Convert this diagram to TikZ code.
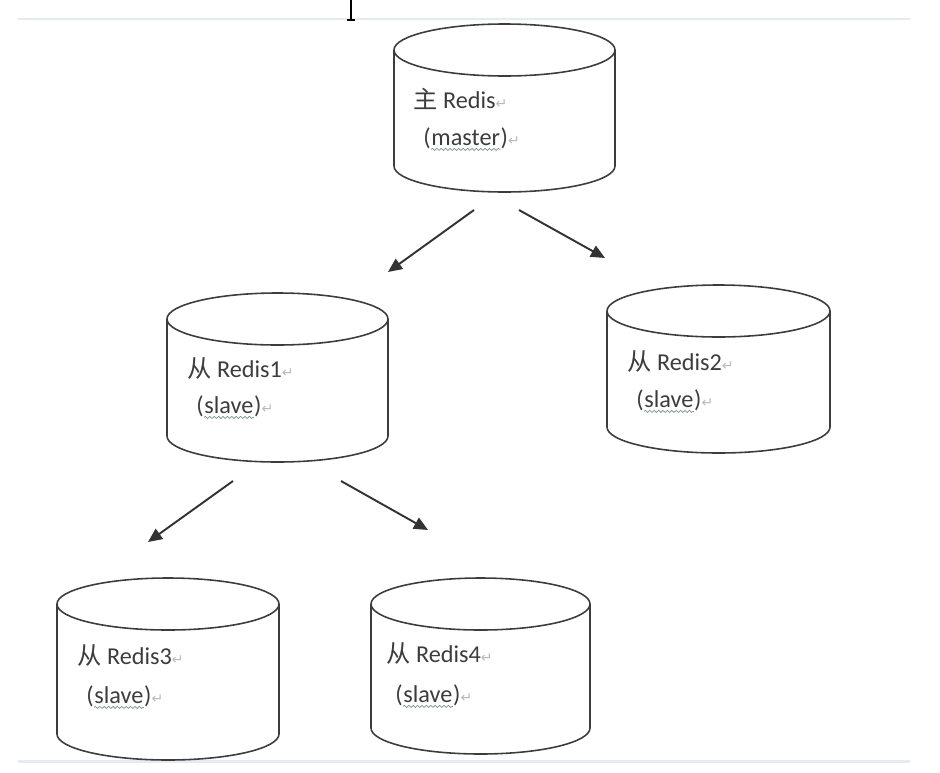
\documentclass[tikz,border=0pt]{standalone}
\usepackage{fontspec}
\setmainfont{Carlito}
\newfontfamily\cjkfont{Noto Sans CJK SC}
\newfontfamily\symfont{DejaVu Sans}
\usetikzlibrary{arrows.meta,decorations.pathmorphing}

\definecolor{inkgray}{RGB}{60,60,60}
\definecolor{rulegray}{RGB}{228,236,242}
\definecolor{wavegreen}{RGB}{120,150,140}

% paragraph mark
\newcommand{\pmark}{{\symfont\fontsize{8}{9}\selectfont\color{gray!55}\raisebox{0pt}{↵}}}

% cylinder: name, x, top y, bottom y, x radius
\newcommand{\rediscyl}[5]{%
  \draw[cyl] ({#2-#5},#3) -- ({#2-#5},#4) arc[start angle=180, end angle=360, x radius=#5, y radius=0.52] -- ({#2+#5},#3);
  \draw[cyl] (#2,#3) ellipse[x radius=#5, y radius=0.52];
  \coordinate (#1) at (#2,#3);
}

% role line with spell-check wave: name, x, y, word
\newcommand{\roleline}[4]{%
  \node[lbl] (#1-lp) at (#2,#3) {(};
  \node[lbl] (#1-word) at (#1-lp.base east) {#4};
  \node[lbl] (#1-rp) at (#1-word.base east) {)\pmark};
  \draw[wave] ([yshift=-2.5pt]#1-word.base west) -- ([yshift=-2.5pt]#1-word.base east);
}

\begin{document}
\begin{tikzpicture}[
    cyl/.style={draw=inkgray, line width=0.9pt},
    flow/.style={-{Triangle[length=8pt,width=7pt]}, draw=black!80, line width=1.1pt},
    lbl/.style={anchor=base west, inner sep=0pt, text=inkgray, font=\fontsize{13.8}{15}\selectfont},
    wave/.style={draw=wavegreen, line width=0.4pt, decorate, decoration={snake, segment length=2.5pt, amplitude=0.6pt}}
  ]
  \useasboundingbox (0,0) rectangle (18.8,-15.44);

  % Page rules and cursor
  \draw[rulegray, line width=1.7pt] (0.36,-0.38) -- (18.2,-0.38);
  \draw[rulegray, line width=1.7pt] (0.36,-15.22) -- (18.2,-15.22);
  \draw[black, line width=0.6pt] (7.02,0) -- (7.02,-0.4) (6.94,-0.4) -- (7.10,-0.4);

  % Cylinders
  \rediscyl{master}{10.09}{-1.0}{-3.32}{2.21}
  \rediscyl{slave1}{5.55}{-6.38}{-8.72}{2.21}
  \rediscyl{slave2}{14.37}{-6.22}{-8.54}{2.23}
  \rediscyl{slave3}{3.36}{-12.08}{-14.68}{2.22}
  \rediscyl{slave4}{9.61}{-12.08}{-14.56}{2.19}

  % Labels
  \node[lbl] (master-name) at (8.26,-2.16) {{\cjkfont 主} Redis\pmark};
  \roleline{master-role}{8.46}{-2.90}{master}
  \node[lbl] (slave1-name) at (3.74,-7.54) {{\cjkfont 从} Redis1\pmark};
  \roleline{slave1-role}{3.92}{-8.26}{slave}
  \node[lbl] (slave2-name) at (12.54,-7.40) {{\cjkfont 从} Redis2\pmark};
  \roleline{slave2-role}{12.72}{-8.14}{slave}
  \node[lbl] (slave3-name) at (1.54,-13.28) {{\cjkfont 从} Redis3\pmark};
  \roleline{slave3-role}{1.72}{-14.06}{slave}
  \node[lbl] (slave4-name) at (7.72,-13.24) {{\cjkfont 从} Redis4\pmark};
  \roleline{slave4-role}{7.90}{-14.04}{slave}

  % Replication arrows
  \coordinate (m-out1) at (9.48,-4.20);
  \coordinate (s1-in) at (7.76,-5.44);
  \coordinate (m-out2) at (10.38,-4.20);
  \coordinate (s2-in) at (12.10,-5.16);
  \coordinate (s1-out1) at (4.66,-9.62);
  \coordinate (s3-in) at (2.96,-10.84);
  \coordinate (s1-out2) at (6.82,-9.62);
  \coordinate (s4-in) at (8.56,-10.60);

  \draw[flow] (m-out1) -- (s1-in);
  \draw[flow] (m-out2) -- (s2-in);
  \draw[flow] (s1-out1) -- (s3-in);
  \draw[flow] (s1-out2) -- (s4-in);
\end{tikzpicture}
\end{document}
